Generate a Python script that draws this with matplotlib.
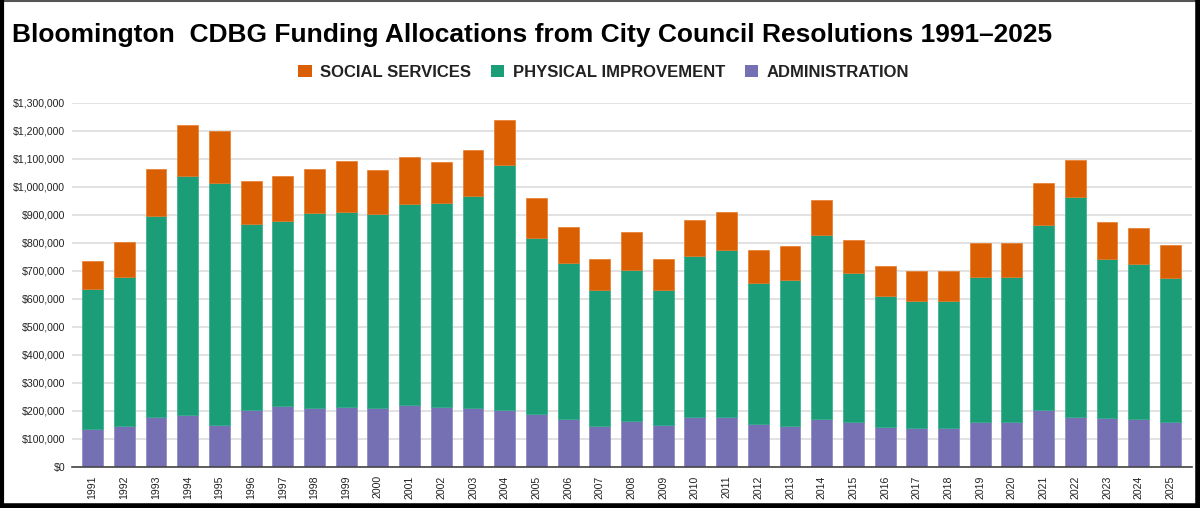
import matplotlib
matplotlib.use("Agg")
import matplotlib.pyplot as plt
from matplotlib.ticker import FuncFormatter, MultipleLocator
from matplotlib.lines import Line2D
from matplotlib.patches import Patch
import numpy as np

years = [str(y) for y in range(1991, 2026)]
# cumulative tops (thousands of dollars)
admin = [137, 146, 177, 184, 150, 203, 219, 212, 215, 212, 221,
         215, 209, 203, 190, 170, 146, 164, 149, 177, 177, 153, 146,
         170, 159, 143, 140, 140, 159, 159, 203, 177, 175, 170, 159]
phys_top = [634, 677, 897, 1038, 1015, 868, 878, 905, 911, 902, 938,
            941, 968, 1076, 816, 727, 631, 703, 631, 754, 774, 655, 668,
            826, 691, 609, 592, 592, 677, 677, 862, 962, 742, 724, 674]
total = [736, 804, 1064, 1221, 1199, 1021, 1039, 1064, 1093, 1061, 1105,
         1087, 1130, 1237, 958, 855, 742, 839, 742, 883, 908, 773, 787,
         952, 811, 718, 698, 698, 798, 798, 1014, 1096, 874, 853, 792]

administration = np.array(admin) * 1000
physical = (np.array(phys_top) - np.array(admin)) * 1000
social = (np.array(total) - np.array(phys_top)) * 1000

c_soc = "#D95F02"
c_phy = "#1B9E77"
c_adm = "#7570B3"

plt.rcParams['font.family'] = ['Liberation Sans', 'DejaVu Sans']

fig = plt.figure(figsize=(12, 5.08), dpi=100)
ax = fig.add_axes([0.06, 0.0807, 0.9333, 0.7173])

x = np.arange(len(years))
w = 0.66
ax.bar(x, administration, w, color=c_adm, edgecolor="#8a86c2", linewidth=0.5, zorder=3)
ax.bar(x, physical, w, bottom=administration, color=c_phy, edgecolor="#2fae88", linewidth=0.5, zorder=3)
ax.bar(x, social, w, bottom=administration + physical, color=c_soc, edgecolor="#e87a2a", linewidth=0.5, zorder=3)

ax.set_xlim(-0.65, len(years) - 1 + 0.68)
ax.set_ylim(0, 1300000)
ax.yaxis.set_major_locator(MultipleLocator(100000))
ax.yaxis.set_major_formatter(FuncFormatter(lambda v, p: "$" + format(int(v), ",")))
ax.grid(axis='y', color="#dddddd", linewidth=1.2, zorder=0)
ax.set_axisbelow(True)
for s in ['top', 'right', 'left']:
    ax.spines[s].set_visible(False)
ax.spines['bottom'].set_color("#444444")
ax.spines['bottom'].set_linewidth(1.2)
ax.spines['bottom'].set_zorder(4)
ax.set_xticks(x)
ax.set_xticklabels(years, rotation=90, fontsize=7.6, color="#222222")
ax.tick_params(axis='x', length=0, pad=6)
ax.tick_params(axis='y', length=0, pad=5, labelsize=7.6, labelcolor="#222222")

fig.text(0.010, 0.932, "Bloomington  CDBG Funding Allocations from City Council Resolutions 1991\u20132025",
         fontsize=19, fontweight='bold', ha='left', va='center', color="#000000")

handles = [Patch(facecolor=c_soc, label="SOCIAL SERVICES"),
           Patch(facecolor=c_phy, label="PHYSICAL IMPROVEMENT"),
           Patch(facecolor=c_adm, label="ADMINISTRATION")]
leg = fig.legend(handles=handles, loc='center', bbox_to_anchor=(0.503, 0.858), ncol=3,
                 frameon=False, prop={'weight': 'bold', 'size': 12},
                 handlelength=0.8, handleheight=0.8, handletextpad=0.5, columnspacing=1.2)
for t in leg.get_texts():
    t.set_color("#222222")

# figure border
fig.add_artist(Line2D([0, 1], [0.999, 0.999], transform=fig.transFigure, color="#555555", linewidth=1.5))
fig.add_artist(Line2D([0.0015, 0.0015], [0, 1], transform=fig.transFigure, color="black", linewidth=3))
fig.add_artist(Line2D([0.9985, 0.9985], [0, 1], transform=fig.transFigure, color="black", linewidth=4))
fig.add_artist(Line2D([0, 1], [0.004, 0.004], transform=fig.transFigure, color="black", linewidth=4))

fig.savefig("out.png", dpi=100)
